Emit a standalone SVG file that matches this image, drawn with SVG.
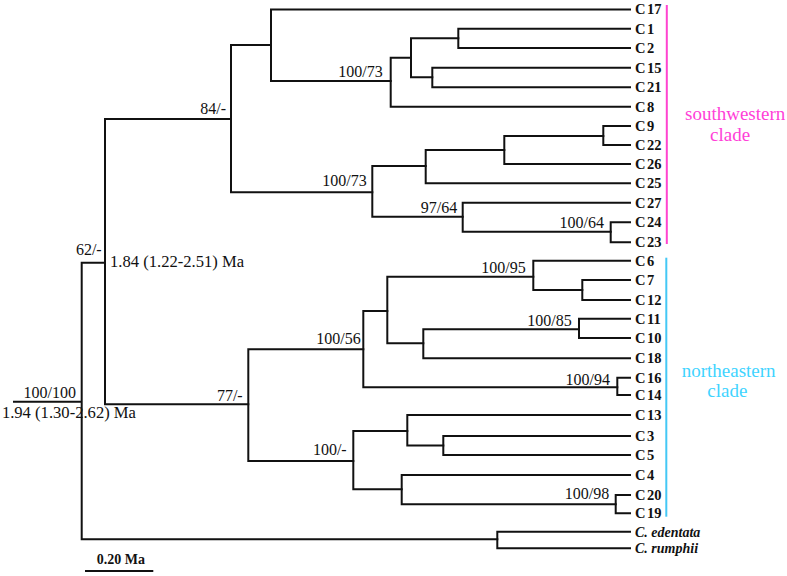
<svg xmlns="http://www.w3.org/2000/svg" width="787" height="576" viewBox="0 0 787 576">
<style>
.br{fill:none;stroke:#111;stroke-width:2;stroke-linecap:square}
.lf{font-family:"Liberation Serif",serif;font-size:14.5px;font-weight:bold;fill:#111}
.og{font-family:"Liberation Serif",serif;font-size:14px;font-weight:bold;font-style:italic;fill:#111}
.sp{font-family:"Liberation Serif",serif;font-size:16px;fill:#111;text-anchor:end}
.ag{font-family:"Liberation Serif",serif;font-size:16.6px;fill:#111}
.sw{font-family:"Liberation Serif",serif;font-size:19px;fill:#ff3fd8}
.ne{font-family:"Liberation Serif",serif;font-size:19px;fill:#3fd4ff}
</style>
<rect width="787" height="576" fill="#fff"/>
<g id="connectors">
<path class="br" d="M14 401.7H81.7M81.7 262.7V539.3M81.7 262.7H105M81.7 539.3H497.3"/>
<path class="br" d="M105 119V404.3M105 119H231M105 404.3H248.3"/>
<path class="br" d="M231 45V192.3M231 45H271M231 192.3H372.3"/>
<path class="br" d="M271 9.5V81M271 9.5H630M271 81H390.7"/>
<path class="br" d="M390.7 57.7V106.7M390.7 57.7H411M390.7 106.7H630"/>
<path class="br" d="M411 38.3V77.3M411 38.3H458.3M411 77.3H432.3"/>
<path class="br" d="M458.3 28.7V48M458.3 28.7H630M458.3 48H630"/>
<path class="br" d="M432.3 67.7V87.3M432.3 67.7H630M432.3 87.3H630"/>
<path class="br" d="M372.3 166V216.7M372.3 166H425.7M372.3 216.7H462.7"/>
<path class="br" d="M425.7 150V183.3M425.7 150H504.3M425.7 183.3H630"/>
<path class="br" d="M504.3 136V164M504.3 136H603.3M504.3 164H630"/>
<path class="br" d="M603.3 126V145M603.3 126H630M603.3 145H630"/>
<path class="br" d="M462.7 202.7V231.7M462.7 202.7H630M462.7 231.7H610.7"/>
<path class="br" d="M610.7 222.3V242.3M610.7 222.3H630M610.7 242.3H630"/>
<path class="br" d="M248.3 349.3V461M248.3 349.3H363.3M248.3 461H353.3"/>
<path class="br" d="M363.3 311V387.3M363.3 311H387.3M363.3 387.3H617.3"/>
<path class="br" d="M387.3 276.7V343.3M387.3 276.7H533.3M387.3 343.3H423.3"/>
<path class="br" d="M533.3 260.7V290M533.3 260.7H630M533.3 290H582.3"/>
<path class="br" d="M582.3 280V300M582.3 280H630M582.3 300H630"/>
<path class="br" d="M423.3 329.3V358.3M423.3 329.3H579M423.3 358.3H630"/>
<path class="br" d="M579 318.7V338M579 318.7H630M579 338H630"/>
<path class="br" d="M617.3 377.7V395M617.3 377.7H630M617.3 395H630"/>
<path class="br" d="M353.3 431V489.3M353.3 431H407.3M353.3 489.3H401.7"/>
<path class="br" d="M407.3 415V445.5M407.3 415H630M407.3 445.5H443.3"/>
<path class="br" d="M443.3 436V455M443.3 436H630M443.3 455H630"/>
<path class="br" d="M401.7 475V504.3M401.7 475H630M401.7 504.3H615.7"/>
<path class="br" d="M615.7 495V513.3M615.7 495H630M615.7 513.3H630"/>
<path class="br" d="M497.3 531.7V548.3M497.3 531.7H630M497.3 548.3H630"/>
</g>
<g id="leaves">
<g id="C17"><text class="lf" x="635" y="14.3">C<tspan dx="1.5">17</tspan></text></g>
<g id="C1"><text class="lf" x="635" y="33.5">C<tspan dx="1.5">1</tspan></text></g>
<g id="C2"><text class="lf" x="635" y="52.8">C<tspan dx="1.5">2</tspan></text></g>
<g id="C15"><text class="lf" x="635" y="72.5">C<tspan dx="1.5">15</tspan></text></g>
<g id="C21"><text class="lf" x="635" y="92.1">C<tspan dx="1.5">21</tspan></text></g>
<g id="C8"><text class="lf" x="635" y="111.5">C<tspan dx="1.5">8</tspan></text></g>
<g id="C9"><text class="lf" x="635" y="130.8">C<tspan dx="1.5">9</tspan></text></g>
<g id="C22"><text class="lf" x="635" y="149.8">C<tspan dx="1.5">22</tspan></text></g>
<g id="C26"><text class="lf" x="635" y="168.8">C<tspan dx="1.5">26</tspan></text></g>
<g id="C25"><text class="lf" x="635" y="188.1">C<tspan dx="1.5">25</tspan></text></g>
<g id="C27"><text class="lf" x="635" y="207.5">C<tspan dx="1.5">27</tspan></text></g>
<g id="C24"><text class="lf" x="635" y="227.1">C<tspan dx="1.5">24</tspan></text></g>
<g id="C23"><text class="lf" x="635" y="247.1">C<tspan dx="1.5">23</tspan></text></g>
<g id="C6"><text class="lf" x="635" y="265.5">C<tspan dx="1.5">6</tspan></text></g>
<g id="C7"><text class="lf" x="635" y="284.8">C<tspan dx="1.5">7</tspan></text></g>
<g id="C12"><text class="lf" x="635" y="304.8">C<tspan dx="1.5">12</tspan></text></g>
<g id="C11"><text class="lf" x="635" y="323.5">C<tspan dx="1.5">11</tspan></text></g>
<g id="C10"><text class="lf" x="635" y="342.8">C<tspan dx="1.5">10</tspan></text></g>
<g id="C18"><text class="lf" x="635" y="363.1">C<tspan dx="1.5">18</tspan></text></g>
<g id="C16"><text class="lf" x="635" y="382.5">C<tspan dx="1.5">16</tspan></text></g>
<g id="C14"><text class="lf" x="635" y="399.8">C<tspan dx="1.5">14</tspan></text></g>
<g id="C13"><text class="lf" x="635" y="419.8">C<tspan dx="1.5">13</tspan></text></g>
<g id="C3"><text class="lf" x="635" y="440.8">C<tspan dx="1.5">3</tspan></text></g>
<g id="C5"><text class="lf" x="635" y="459.8">C<tspan dx="1.5">5</tspan></text></g>
<g id="C4"><text class="lf" x="635" y="479.8">C<tspan dx="1.5">4</tspan></text></g>
<g id="C20"><text class="lf" x="635" y="499.8">C<tspan dx="1.5">20</tspan></text></g>
<g id="C19"><text class="lf" x="635" y="518.1">C<tspan dx="1.5">19</tspan></text></g>
<g id="Cedentata"><text class="og" x="635" y="536.5">C. edentata</text></g>
<g id="Crumphii"><text class="og" x="635" y="553">C. rumphii</text></g>
</g>
<g id="supports">
<text class="sp" x="226" y="114.3">84/-</text>
<text class="sp" x="382.7" y="76.7">100/73</text>
<text class="sp" x="366.7" y="185.7">100/73</text>
<text class="sp" x="457.3" y="212.7">97/64</text>
<text class="sp" x="604" y="228.3">100/64</text>
<text class="sp" x="101.7" y="255.3">62/-</text>
<text class="sp" x="525.7" y="272.7">100/95</text>
<text class="sp" x="571.7" y="325.7">100/85</text>
<text class="sp" x="360.7" y="344">100/56</text>
<text class="sp" x="610" y="385">100/94</text>
<text class="sp" x="242.7" y="400.7">77/-</text>
<text class="sp" x="76" y="398.3">100/100</text>
<text class="sp" x="346.7" y="455">100/-</text>
<text class="sp" x="609.3" y="499.3">100/98</text>
<text class="ag" x="110" y="266.7">1.84 (1.22-2.51) Ma</text>
<text class="ag" x="136" y="417.5" text-anchor="end">1.94 (1.30-2.62) Ma</text>
</g>
<g id="southwestern-clade">
<rect x="665.8" y="5" width="2" height="239" fill="#ff44d0"/>
<text class="sw" x="685" y="120">southwestern</text>
<text class="sw" x="710" y="140.5">clade</text>
</g>
<g id="northeastern-clade">
<rect x="665.3" y="257.7" width="2" height="259" fill="#44c8f5"/>
<text class="ne" x="681.7" y="376.7">northeastern</text>
<text class="ne" x="707.3" y="397.3">clade</text>
</g>
<g id="scale-bar">
<text x="96.7" y="564" font-family="Liberation Serif, serif" font-size="14" font-weight="bold" fill="#111">0.20 Ma</text>
<path class="br" d="M86 571H152.3" stroke-linecap="butt"/>
</g>
</svg>
